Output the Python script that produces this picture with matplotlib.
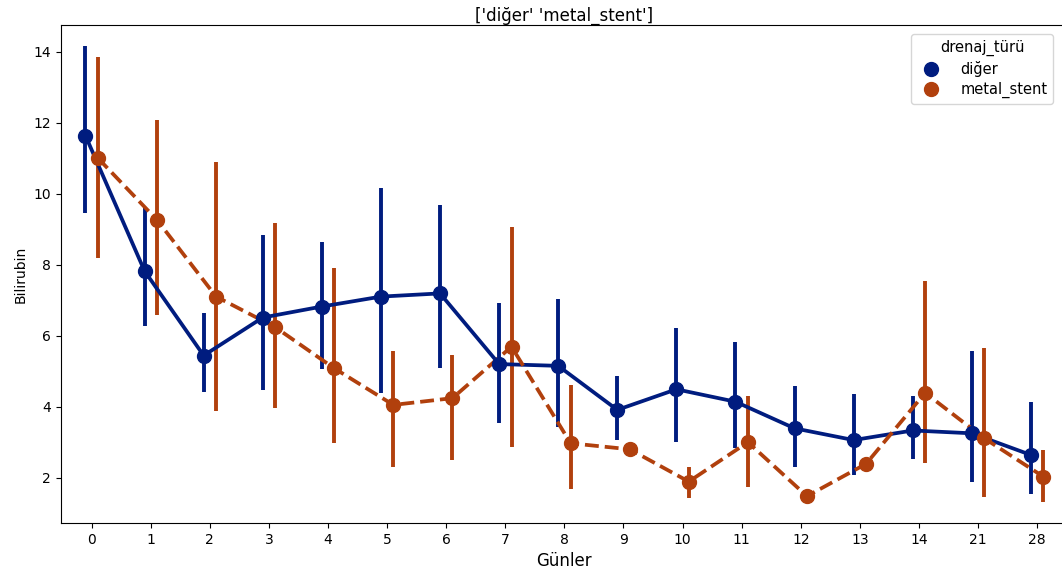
import numpy as np
import matplotlib.pyplot as plt

# gün kategorileri
days = ["0", "1", "2", "3", "4", "5", "6", "7", "8", "9", "10", "11", "12", "13", "14", "21", "28"]

# diğer
diger_mean = [11.63, 7.82, 5.44, 6.51, 6.82, 7.10, 7.19, 5.20, 5.15, 3.91, 4.49, 4.14, 3.39, 3.06, 3.33, 3.25, 2.64]
diger_lo = [9.46, 6.27, 4.41, 4.47, 5.05, 4.38, 5.08, 3.53, 3.44, 3.06, 3.01, 2.83, 2.29, 2.08, 2.53, 1.89, 1.53]
diger_hi = [14.16, 9.63, 6.63, 8.84, 8.65, 10.15, 9.68, 6.93, 7.03, 4.86, 6.21, 5.81, 4.59, 4.36, 4.30, 5.57, 4.14]

# metal_stent
metal_mean = [11.00, 9.26, 7.10, 6.24, 5.08, 4.05, 4.24, 5.69, 2.97, 2.80, 1.89, 3.00, 1.48, 2.39, 4.39, 3.11, 2.03]
metal_lo = [8.18, 6.58, 3.89, 3.95, 2.99, 2.31, 2.50, 2.87, 1.67, 2.80, 1.42, 1.74, 1.48, 2.39, 2.42, 1.45, 1.32]
metal_hi = [13.86, 12.08, 10.90, 9.17, 7.90, 5.58, 5.46, 9.07, 4.61, 2.80, 2.31, 4.30, 1.48, 2.39, 7.53, 5.66, 2.78]

blue = "#001c7f"
orange = "#b1400d"

fig = plt.figure(figsize=(10.62, 5.8), dpi=100)
ax = fig.add_axes([0.0574, 0.098, 0.947, 0.859])

x = np.arange(len(days))
series = [
    ("diğer", diger_mean, diger_lo, diger_hi, blue, "-", -0.105),
    ("metal_stent", metal_mean, metal_lo, metal_hi, orange, "--", 0.105),
]
for name, mean, lo, hi, color, ls, off in series:
    xs = x + off
    ax.vlines(xs, lo, hi, color=color, lw=2.8, zorder=2)
    ax.plot(xs, mean, color=color, ls=ls, lw=2.7, zorder=3)
    ax.plot(xs, mean, "o", color=color, ms=10, zorder=4, label=name)

ax.set_xticks(x)
ax.set_xticklabels(days)
ax.set_xlim(-0.52, 16.5)
ax.set_ylim(0.72, 14.75)
ax.set_yticks([2, 4, 6, 8, 10, 12, 14])
ax.set_xlabel("Günler", fontsize=12)
ax.set_ylabel("Bilirubin", fontsize=10)
ax.set_title("['diğer' 'metal_stent']", fontsize=12, pad=3)

ax.legend(title="drenaj_türü", loc="upper right", bbox_to_anchor=(0.994, 0.997),
          fontsize=10.5, title_fontsize=10.5, handletextpad=1.0, labelspacing=0.35)

fig.savefig("out.png", dpi=100)
